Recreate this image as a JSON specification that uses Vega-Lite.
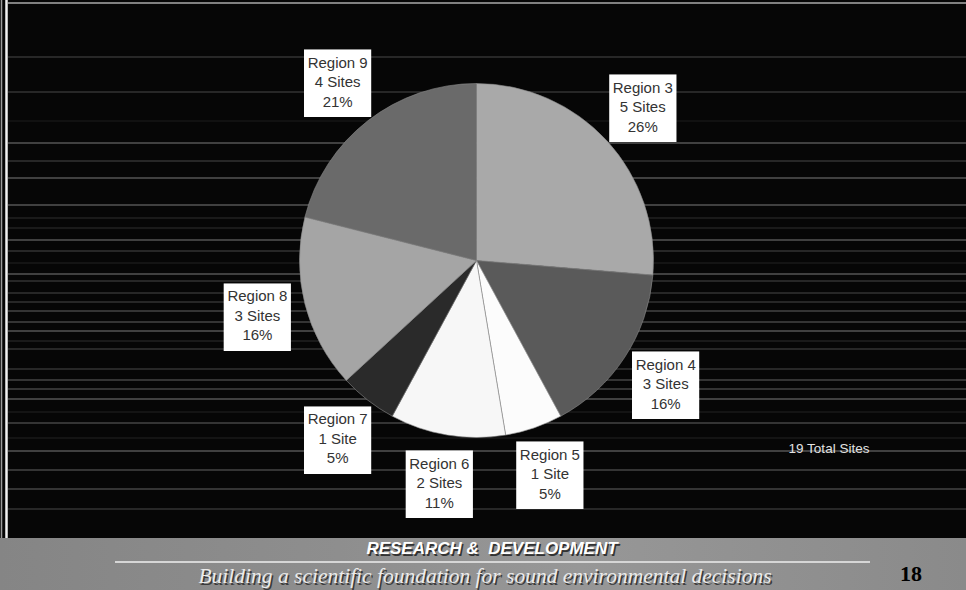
{
  "$schema": "https://vega.github.io/schema/vega-lite/v6.json",
  "width": 966,
  "height": 590,
  "autosize": {"type": "none"},
  "padding": 0,
  "background": "#060606",
  "config": {"view": {"stroke": null}, "axis": {"disable": true}},
  "datasets": {
    "regions": [
      {"idx": 1, "region": "Region 3", "sites": 5, "label": "Region 3\n5 Sites\n26%"},
      {"idx": 2, "region": "Region 4", "sites": 3, "label": "Region 4\n3 Sites\n16%"},
      {"idx": 3, "region": "Region 5", "sites": 1, "label": "Region 5\n1 Site\n5%"},
      {"idx": 4, "region": "Region 6", "sites": 2, "label": "Region 6\n2 Sites\n11%"},
      {"idx": 5, "region": "Region 7", "sites": 1, "label": "Region 7\n1 Site\n5%"},
      {"idx": 6, "region": "Region 8", "sites": 3, "label": "Region 8\n3 Sites\n16%"},
      {"idx": 7, "region": "Region 9", "sites": 4, "label": "Region 9\n4 Sites\n21%"}
    ],
    "scanlines": [
      {"y": 3, "level": 170},
      {"y": 57, "level": 51},
      {"y": 92, "level": 51},
      {"y": 121, "level": 22},
      {"y": 143, "level": 85},
      {"y": 161, "level": 51},
      {"y": 178, "level": 85},
      {"y": 205, "level": 85},
      {"y": 218, "level": 34},
      {"y": 228, "level": 34},
      {"y": 240, "level": 85},
      {"y": 251, "level": 51},
      {"y": 263, "level": 26},
      {"y": 274, "level": 85},
      {"y": 281, "level": 51},
      {"y": 293, "level": 51},
      {"y": 302, "level": 51},
      {"y": 311, "level": 68},
      {"y": 322, "level": 68},
      {"y": 331, "level": 85},
      {"y": 341, "level": 34},
      {"y": 349, "level": 51},
      {"y": 369, "level": 51},
      {"y": 380, "level": 68},
      {"y": 389, "level": 68},
      {"y": 399, "level": 85},
      {"y": 412, "level": 26},
      {"y": 423, "level": 68},
      {"y": 438, "level": 26},
      {"y": 451, "level": 85},
      {"y": 470, "level": 68},
      {"y": 489, "level": 68},
      {"y": 509, "level": 51}
    ]
  },
  "layer": [
    {
      "data": {"name": "scanlines"},
      "mark": {"type": "rule", "strokeWidth": 1.5},
      "encoding": {
        "x": {"datum": 8, "type": "quantitative", "scale": {"domain": [0, 966], "nice": false, "zero": false}, "axis": null},
        "x2": {"datum": 966},
        "y": {"field": "y", "type": "quantitative", "scale": {"domain": [0, 590], "reverse": true, "nice": false, "zero": false}, "axis": null},
        "stroke": {"field": "level", "type": "quantitative", "scale": {"domain": [0, 255], "range": ["#000000", "#ffffff"], "interpolate": "rgb"}, "legend": null}
      }
    },
    {
      "data": {"values": [{}]},
      "mark": {"type": "rule", "color": "#f2f2f2", "strokeWidth": 2.5},
      "encoding": {
        "x": {"datum": 6.5, "type": "quantitative"},
        "y": {"datum": 0, "type": "quantitative"},
        "y2": {"datum": 538}
      }
    },
    {
      "data": {"values": [{}]},
      "mark": {"type": "rule", "color": "#9a9a9a", "strokeWidth": 1.5},
      "encoding": {
        "x": {"datum": 1.5, "type": "quantitative"},
        "y": {"datum": 0, "type": "quantitative"},
        "y2": {"datum": 590}
      }
    },
    {
      "data": {"name": "regions"},
      "mark": {"type": "arc", "radius": 177, "stroke": "#8a8a8a", "strokeWidth": 0.6},
      "encoding": {
        "x": {"datum": 476.5, "type": "quantitative"},
        "y": {"datum": 260.5, "type": "quantitative"},
        "theta": {"field": "sites", "type": "quantitative", "stack": true},
        "order": {"field": "idx", "type": "quantitative"},
        "color": {
          "field": "region",
          "type": "nominal",
          "scale": {
            "domain": ["Region 3", "Region 4", "Region 5", "Region 6", "Region 7", "Region 8", "Region 9"],
            "range": ["#a9a9a9", "#5a5a5a", "#fcfcfc", "#f7f7f7", "#2a2a2a", "#a5a5a5", "#6a6a6a"]
          },
          "legend": null
        }
      }
    },
    {
      "data": {"name": "regions"},
      "mark": {"type": "text", "text": "■", "font": "DejaVu Sans", "fontSize": 88, "radius": 226, "color": "#ffffff", "align": "center", "baseline": "middle", "dy": -2},
      "encoding": {
        "x": {"datum": 476.5, "type": "quantitative"},
        "y": {"datum": 260.5, "type": "quantitative"},
        "theta": {"field": "sites", "type": "quantitative", "stack": true},
        "order": {"field": "idx", "type": "quantitative"}
      }
    },
    {
      "data": {"name": "regions"},
      "mark": {"type": "text", "font": "Liberation Sans", "fontSize": 15, "lineBreak": "\n", "lineHeight": 19.5, "radius": 226, "color": "#333333", "align": "center", "baseline": "middle", "dy": -19.5},
      "encoding": {
        "x": {"datum": 476.5, "type": "quantitative"},
        "y": {"datum": 260.5, "type": "quantitative"},
        "theta": {"field": "sites", "type": "quantitative", "stack": true},
        "order": {"field": "idx", "type": "quantitative"},
        "text": {"field": "label", "type": "nominal"}
      }
    },
    {
      "data": {"values": [{}]},
      "mark": {"type": "text", "text": "19 Total Sites", "font": "Liberation Sans", "fontSize": 13.5, "color": "#e2e2e2", "align": "center", "baseline": "middle"},
      "encoding": {
        "x": {"datum": 829, "type": "quantitative"},
        "y": {"datum": 449, "type": "quantitative"}
      }
    },
    {
      "data": {"values": [{}]},
      "mark": {
        "type": "rect",
        "color": {
          "gradient": "linear", "x1": 0, "y1": 0, "x2": 1, "y2": 0,
          "stops": [
            {"offset": 0, "color": "#858585"},
            {"offset": 0.35, "color": "#8e8e8e"},
            {"offset": 0.6, "color": "#979797"},
            {"offset": 1, "color": "#8a8a8a"}
          ]
        }
      },
      "encoding": {
        "x": {"datum": 0, "type": "quantitative"},
        "x2": {"datum": 966},
        "y": {"datum": 538, "type": "quantitative"},
        "y2": {"datum": 590}
      }
    },
    {
      "data": {"values": [{}]},
      "mark": {"type": "rule", "color": "#d6d6d6", "strokeWidth": 2},
      "encoding": {
        "x": {"datum": 115, "type": "quantitative"},
        "x2": {"datum": 870},
        "y": {"datum": 562, "type": "quantitative"}
      }
    },
    {
      "data": {"values": [{}]},
      "mark": {"type": "text", "text": "RESEARCH &\u00a0\u00a0DEVELOPMENT", "font": "Liberation Sans", "fontWeight": "bold", "fontStyle": "italic", "fontSize": 17, "color": "#333333", "align": "center", "baseline": "middle", "dx": 1.5, "dy": 1.5},
      "encoding": {
        "x": {"datum": 492, "type": "quantitative"},
        "y": {"datum": 549, "type": "quantitative"}
      }
    },
    {
      "data": {"values": [{}]},
      "mark": {"type": "text", "text": "RESEARCH &\u00a0\u00a0DEVELOPMENT", "font": "Liberation Sans", "fontWeight": "bold", "fontStyle": "italic", "fontSize": 17, "color": "#ffffff", "align": "center", "baseline": "middle"},
      "encoding": {
        "x": {"datum": 492, "type": "quantitative"},
        "y": {"datum": 549, "type": "quantitative"}
      }
    },
    {
      "data": {"values": [{}]},
      "mark": {"type": "text", "text": "Building a scientific foundation for sound environmental decisions", "font": "Liberation Serif", "fontStyle": "italic", "fontSize": 21.5, "color": "#3a3a3a", "align": "center", "baseline": "alphabetic", "dx": 1.5, "dy": 1.5},
      "encoding": {
        "x": {"datum": 485, "type": "quantitative"},
        "y": {"datum": 583, "type": "quantitative"}
      }
    },
    {
      "data": {"values": [{}]},
      "mark": {"type": "text", "text": "Building a scientific foundation for sound environmental decisions", "font": "Liberation Serif", "fontStyle": "italic", "fontSize": 21.5, "color": "#ebebeb", "align": "center", "baseline": "alphabetic"},
      "encoding": {
        "x": {"datum": 485, "type": "quantitative"},
        "y": {"datum": 583, "type": "quantitative"}
      }
    },
    {
      "data": {"values": [{}]},
      "mark": {"type": "text", "text": "18", "font": "Liberation Serif", "fontWeight": "bold", "fontSize": 22, "color": "#000000", "align": "center", "baseline": "alphabetic"},
      "encoding": {
        "x": {"datum": 911, "type": "quantitative"},
        "y": {"datum": 581, "type": "quantitative"}
      }
    }
  ]
}
